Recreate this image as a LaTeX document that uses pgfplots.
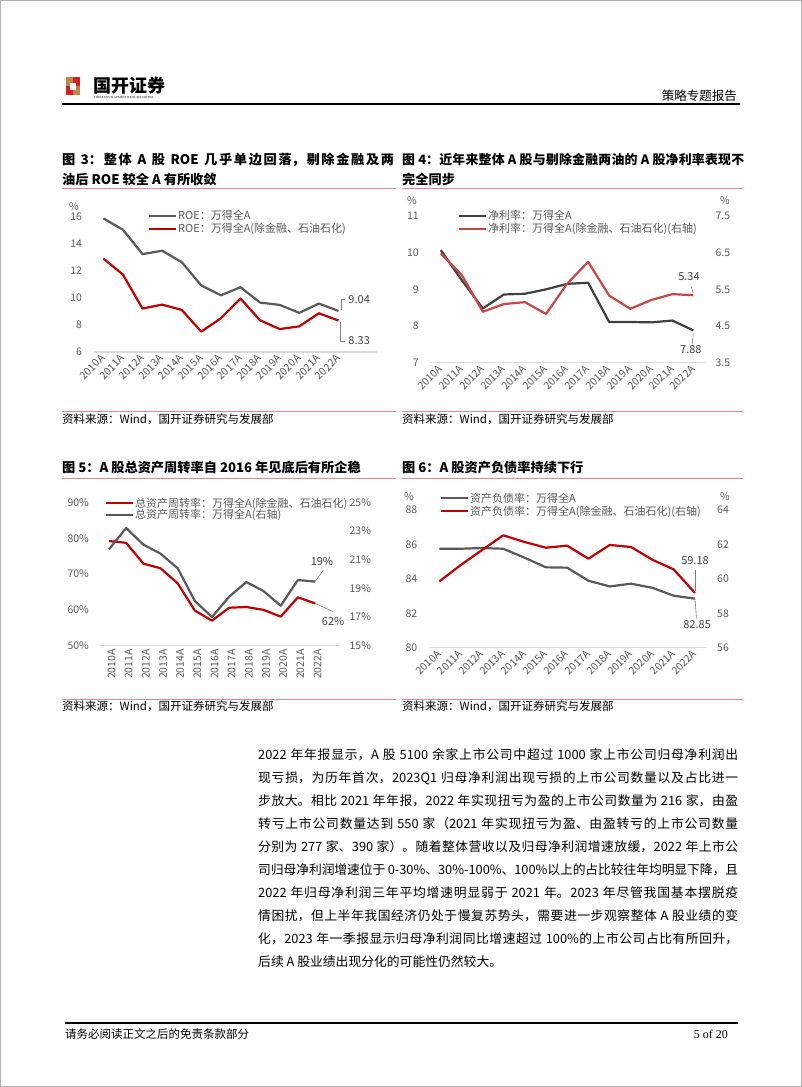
\documentclass[border=0pt]{standalone}
\usepackage{fontspec}
\setmainfont{Noto Sans CJK SC}
\newfontfamily\cjk{Noto Sans CJK SC}
\newfontfamily\tnr{Liberation Serif}
\usepackage{pgfplots}
\pgfplotsset{compat=1.18}
\definecolor{lgray}{HTML}{595959}
\definecolor{dgray}{HTML}{404040}
\definecolor{lred}{HTML}{C00000}
\definecolor{mred}{RGB}{200,70,70}
\definecolor{tickc}{HTML}{595959}
\definecolor{basec}{HTML}{D9D9D9}
\definecolor{pinkline}{RGB}{225,135,145}
\definecolor{logored}{RGB}{215,30,35}
\definecolor{logogold}{RGB}{185,135,70}
\XeTeXlinebreaklocale "zh"
\XeTeXlinebreakskip=0pt plus 1pt minus 0.2pt
\newcommand\jl[2]{\parbox{#1}{\parfillskip=0pt\noindent #2}}
\tikzset{
 ln/.style={line width=2.2pt, line join=round},
 leader/.style={draw=gray, line width=0.6pt},
 ann/.style={font=\cjk\fontsize{11}{12}\selectfont, text=dgray, inner sep=0pt},
}
\pgfplotsset{
 base/.style={scale only axis, anchor=south west, clip=false,
   axis line style={draw=none}, tick style={draw=none},
   ticklabel style={font=\cjk\fontsize{10.5}{12}\selectfont, text=tickc},
   xmin=-0.5, xtick={0,...,12},
   xticklabels={2010A,2011A,2012A,2013A,2014A,2015A,2016A,2017A,2018A,2019A,2020A,2021A,2022A},
   extra y tick style={grid=major, grid style={draw=basec, line width=1.2pt}},
   legend style={draw=none, fill=none, inner sep=0pt, outer sep=0pt,
     font=\cjk\fontsize{11}{13}\selectfont, text=lgray, nodes={inner sep=1pt}, row sep=0pt, anchor=north west},
   legend cell align=left,
   legend image code/.code={\draw[##1] (0pt,0pt) -- (27pt,0pt);},
   yticklabel style={xshift=-8pt},
 },
 sec/.style={scale only axis, anchor=south west, clip=false,
   axis line style={draw=none}, tick style={draw=none},
   ticklabel style={font=\cjk\fontsize{10.5}{12}\selectfont, text=tickc},
   xmin=-0.5, xtick=\empty, yticklabel pos=right,
   yticklabel style={xshift=7pt},
 },
}
\begin{document}
\begin{tikzpicture}
% page frame
\draw[gray!60, line width=1pt] (0.5pt,-0.5pt) rectangle (801.5pt,-1086.5pt);
% header
\fill[logored] (66pt,-77pt) rectangle (80pt,-95pt);
\fill[logogold] (66pt,-77pt) rectangle (73pt,-86pt);
\fill[logogold] (73pt,-86pt) rectangle (80pt,-95pt);
\fill[white] (70pt,-82.5pt) rectangle (76pt,-89.5pt);
\node[anchor=west, inner sep=0pt, font=\cjk\bfseries\fontsize{18}{20}\selectfont] at (93pt,-86pt) {国开证券};
\node[anchor=west, inner sep=0pt, font=\tnr\fontsize{3}{3}\selectfont] at (94pt,-98pt) {CHINA DEVELOPMENT BANK SECURITIES};
\node[anchor=east, inner sep=0pt, font=\cjk\fontsize{12.5}{14}\selectfont] at (737pt,-96pt) {策略专题报告};
\draw[black, line width=1.3pt] (62pt,-104pt) -- (740pt,-104pt);
% titles
\node[anchor=west, inner sep=0pt, font=\cjk\bfseries\fontsize{13.2}{15}\selectfont] at (62pt,-160pt) {\jl{332pt}{图 3：整体 A 股 ROE 几乎单边回落，剔除金融及两}};
\node[anchor=west, inner sep=0pt, font=\cjk\bfseries\fontsize{13.2}{15}\selectfont] at (62pt,-179pt) {油后 ROE 较全 A 有所收敛};
\node[anchor=west, inner sep=0pt, font=\cjk\bfseries\fontsize{12.9}{15}\selectfont] at (402pt,-160pt) {\jl{342pt}{图 4：近年来整体 A 股与剔除金融两油的 A 股净利率表现不}};
\node[anchor=west, inner sep=0pt, font=\cjk\bfseries\fontsize{13.2}{15}\selectfont] at (402pt,-179pt) {完全同步};
\draw[pinkline, line width=1pt] (62pt,-188pt) -- (396pt,-188pt);
\draw[pinkline, line width=1pt] (402pt,-188pt) -- (743pt,-188pt);
\node[anchor=west, inner sep=0pt, font=\cjk\bfseries\fontsize{13.2}{15}\selectfont] at (62pt,-468pt) {图 5：A 股总资产周转率自 2016 年见底后有所企稳};
\node[anchor=west, inner sep=0pt, font=\cjk\bfseries\fontsize{13.2}{15}\selectfont] at (402pt,-468pt) {图 6：A 股资产负债率持续下行};
\draw[pinkline, line width=1pt] (62pt,-478pt) -- (396pt,-478pt);
\draw[pinkline, line width=1pt] (402pt,-478pt) -- (743pt,-478pt);
% sources
\draw[pinkline, line width=1pt] (62pt,-411pt) -- (396pt,-411pt);
\draw[pinkline, line width=1pt] (402pt,-411pt) -- (743pt,-411pt);
\draw[pinkline, line width=1pt] (62pt,-699pt) -- (396pt,-699pt);
\draw[pinkline, line width=1pt] (402pt,-699pt) -- (743pt,-699pt);
\foreach \xx/\yy in {62/419, 402/419, 62/706, 402/706}
  \node[anchor=west, inner sep=0pt, font=\cjk\fontsize{11.5}{13}\selectfont] at (\xx pt,-\yy pt) {资料来源：Wind，国开证券研究与发展部};
% unit labels
\node[font=\cjk\fontsize{10.5}{12}\selectfont, text=tickc] at (74pt,-207pt) {\%};
\node[font=\cjk\fontsize{10.5}{12}\selectfont, text=tickc] at (412pt,-201pt) {\%};
\node[font=\cjk\fontsize{10.5}{12}\selectfont, text=tickc] at (725pt,-201pt) {\%};
\node[font=\cjk\fontsize{10.5}{12}\selectfont, text=tickc] at (409pt,-497pt) {\%};
\node[font=\cjk\fontsize{10.5}{12}\selectfont, text=tickc] at (725pt,-497pt) {\%};

% ===== Chart 1 =====
\begin{axis}[base, at={(93.5pt,-352pt)}, width=283.2pt, height=135pt,
  xmax=13.95, ymin=6, ymax=16, ytick={6,8,10,12,14,16}, yticklabels={6,8,10,12,14,16},
  extra y ticks={6}, extra y tick labels={},
  xticklabel style={rotate=45, anchor=east, yshift=-3pt},
  legend style={at={(axis cs:2.28,16.56)}}]
\addplot[lgray, ln] coordinates {(0,15.9)(1,15.06)(2,13.25)(3,13.5)(4,12.66)(5,10.93)(6,10.2)(7,10.8)(8,9.66)(9,9.49)(10,8.9)(11,9.59)(12,9.04)};
\addlegendentry{ROE：万得全A}
\addplot[lred, ln] coordinates {(0,12.93)(1,11.74)(2,9.22)(3,9.51)(4,9.12)(5,7.51)(6,8.5)(7,9.96)(8,8.35)(9,7.7)(10,7.9)(11,8.87)(12,8.33)};
\addlegendentry{ROE：万得全A(除金融、石油石化)}
\draw[leader] (axis cs:12.13,9.11) -- (axis cs:12.13,9.9) -- (axis cs:12.33,9.9);
\node[ann, anchor=west] at (axis cs:12.5,9.9) {9.04};
\draw[leader] (axis cs:12.09,8.24) -- (axis cs:12.09,6.81) -- (axis cs:12.33,6.81);
\node[ann, anchor=west] at (axis cs:12.5,6.81) {8.33};
\end{axis}

% ===== Chart 2 =====
\begin{axis}[base, at={(430.2pt,-362.7pt)}, width=274.8pt, height=146.7pt,
  xmax=12.55, ymin=7, ymax=11, ytick={7,8,9,10,11}, yticklabels={7,8,9,10,11},
  extra y ticks={7}, extra y tick labels={},
  xticklabel style={rotate=45, anchor=east, yshift=-3pt},
  legend style={at={(axis cs:0.82,11.18)}}]
\addplot[dgray, ln] coordinates {(0,10.07)(1,9.25)(2,8.48)(3,8.86)(4,8.88)(5,9.0)(6,9.15)(7,9.18)(8,8.11)(9,8.11)(10,8.1)(11,8.15)(12,7.88)};
\addlegendentry{净利率：万得全A}
\addlegendimage{mred, ln}
\addlegendentry{净利率：万得全A(除金融、石油石化)(右轴)}
\draw[leader] (axis cs:11.99,7.82) -- (axis cs:11.95,7.52);
\node[ann] at (axis cs:11.88,7.37) {7.88};
\end{axis}
\begin{axis}[sec, at={(430.2pt,-362.7pt)}, width=274.8pt, height=146.7pt,
  xmax=12.55, ymin=3.5, ymax=7.5, ytick={3.5,4.5,5.5,6.5,7.5}, yticklabels={3.5,4.5,5.5,6.5,7.5}]
\addplot[mred, ln] coordinates {(0,6.48)(1,5.89)(2,4.89)(3,5.1)(4,5.15)(5,4.83)(6,5.65)(7,6.25)(8,5.33)(9,4.97)(10,5.21)(11,5.37)(12,5.34)};
\draw[leader] (axis cs:11.99,5.4) -- (axis cs:11.9,5.57);
\node[ann] at (axis cs:11.79,5.84) {5.34};
\end{axis}

% ===== Chart 3 =====
\begin{axis}[base, at={(100.4pt,-645.7pt)}, width=238.7pt, height=143.4pt,
  xmax=13.4, ymin=50, ymax=90, ytick={50,60,70,80,90}, yticklabels={50\%,60\%,70\%,80\%,90\%},
  extra y ticks={50}, extra y tick labels={},
  xticklabel style={rotate=90, anchor=east, yshift=-2.5pt},
  legend style={at={(axis cs:-0.23,91.5)}, row sep=-1.5pt}]
\addplot[lred, ln] coordinates {(0,79.2)(1,78.7)(2,72.9)(3,71.6)(4,67.4)(5,59.8)(6,57.0)(7,60.6)(8,60.8)(9,60.0)(10,58.1)(11,63.5)(12,61.8)};
\addlegendentry{总资产周转率：万得全A(除金融、石油石化)}
\addlegendimage{lgray, ln}
\addlegendentry{总资产周转率：万得全A(右轴)}
\draw[leader] (axis cs:12,61.8) -- (axis cs:13.06,59.5);
\node[ann] at (axis cs:13.05,56.9) {62\%};
\end{axis}
\begin{axis}[sec, at={(100.4pt,-645.7pt)}, width=238.7pt, height=143.4pt,
  xmax=13.4, ymin=15, ymax=25, ytick={15,17,19,21,23,25}, yticklabels={15\%,17\%,19\%,21\%,23\%,25\%}]
\addplot[lgray, ln] coordinates {(0,21.72)(1,23.21)(2,22.05)(3,21.42)(4,20.40)(5,18.12)(6,17.0)(7,18.42)(8,19.44)(9,18.81)(10,17.79)(11,19.58)(12,19.47)};
\draw[leader] (axis cs:12,19.47) -- (axis cs:12.49,20.28);
\node[ann] at (axis cs:12.4,20.84) {19\%};
\end{axis}

% ===== Chart 4 =====
\begin{axis}[base, at={(428.7pt,-647.7pt)}, width=278pt, height=137.7pt,
  xmax=12.55, ymin=80, ymax=88, ytick={80,82,84,86,88}, yticklabels={80,82,84,86,88},
  extra y ticks={80}, extra y tick labels={},
  xticklabel style={rotate=45, anchor=east, yshift=-3pt},
  legend style={at={(axis cs:0.03,89.05)}}]
\addplot[lgray, ln] coordinates {(0,85.75)(1,85.75)(2,85.79)(3,85.75)(4,85.23)(5,84.67)(6,84.65)(7,83.89)(8,83.56)(9,83.72)(10,83.48)(11,83.02)(12,82.85)};
\addlegendentry{资产负债率：万得全A}
\addlegendimage{lred, ln}
\addlegendentry{资产负债率：万得全A(除金融、石油石化)(右轴)}
\draw[leader] (axis cs:12,82.87) -- (axis cs:12.07,81.7);
\node[ann] at (axis cs:12.1,81.37) {82.85};
\end{axis}
\begin{axis}[sec, at={(428.7pt,-647.7pt)}, width=278pt, height=137.7pt,
  xmax=12.55, ymin=56, ymax=64, ytick={56,58,60,62,64}, yticklabels={56,58,60,62,64}]
\addplot[lred, ln] coordinates {(0,59.85)(1,60.8)(2,61.67)(3,62.53)(4,62.14)(5,61.81)(6,61.93)(7,61.17)(8,61.97)(9,61.85)(10,61.11)(11,60.55)(12,59.18)};
\draw[leader] (axis cs:12,59.3) -- (axis cs:12,60.51);
\node[ann] at (axis cs:12.0,61.09) {59.18};
\end{axis}

% body text
\begin{scope}[every node/.style={anchor=west, inner sep=0pt, font=\cjk\fontsize{12.8}{15}\selectfont}]
\node at (258pt,-755pt) {\jl{480pt}{2022 年年报显示，A 股 5100 余家上市公司中超过 1000 家上市公司归母净利润出}};
\node at (258pt,-778pt) {\jl{480pt}{现亏损，为历年首次，2023Q1 归母净利润出现亏损的上市公司数量以及占比进一}};
\node at (258pt,-801pt) {\jl{480pt}{步放大。相比 2021 年年报，2022 年实现扭亏为盈的上市公司数量为 216 家，由盈}};
\node at (258pt,-824pt) {\jl{480pt}{转亏上市公司数量达到 550 家（2021 年实现扭亏为盈、由盈转亏的上市公司数量}};
\node at (258pt,-847pt) {\jl{480pt}{分别为 277 家、390 家）。随着整体营收以及归母净利润增速放缓，2022 年上市公}};
\node at (258pt,-870pt) {\jl{480pt}{司归母净利润增速位于 0-30\%、30\%-100\%、100\%以上的占比较往年均明显下降，且}};
\node at (258pt,-893pt) {\jl{480pt}{2022 年归母净利润三年平均增速明显弱于 2021 年。2023 年尽管我国基本摆脱疫}};
\node at (258pt,-916pt) {\jl{480pt}{情困扰，但上半年我国经济仍处于慢复苏势头，需要进一步观察整体 A 股业绩的变}};
\node at (258pt,-939pt) {\jl{480pt}{化，2023 年一季报显示归母净利润同比增速超过 100\%的上市公司占比有所回升，}};
\node at (258pt,-962pt) {后续 A 股业绩出现分化的可能性仍然较大。};
\end{scope}
% footer
\draw[black, line width=1.5pt] (65pt,-1023pt) -- (738pt,-1023pt);
\node[anchor=west, inner sep=0pt, font=\cjk\fontsize{11.5}{13}\selectfont] at (65pt,-1034pt) {请务必阅读正文之后的免责条款部分};
\node[anchor=east, inner sep=0pt, font=\tnr\fontsize{12}{13}\selectfont] at (728pt,-1034pt) {5 of 20};
\end{tikzpicture}
\end{document}
